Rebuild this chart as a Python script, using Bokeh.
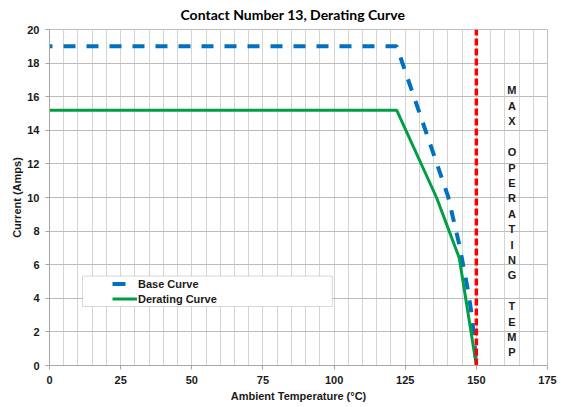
from bokeh.plotting import figure
from bokeh.models import (Range1d, SingleIntervalTicker, Legend, LegendItem,
                          BoxAnnotation, ColumnDataSource)
from bokeh.embed import file_html
from bokeh.resources import INLINE
from bokeh.core.properties import value

# ---------------- data ----------------
chart_title = "Contact Number 13, Derating Curve"
x_title = "Ambient Temperature (°C)"
y_title = "Current (Amps)"

base_temp = [0, 122, 140, 144, 147, 148.5, 150]
base_current = [19.0, 19.0, 10.1, 7.2, 4.5, 2.9, 0.0]

derate_temp = [0, 122, 136, 144, 150]
derate_current = [15.2, 15.2, 10.0, 6.4, 0.0]

max_temp = 150
max_temp_span = [0, 20]

label_letters = list("MAX OPERATING TEMP")
label_temp = 162.5
label_top = 16.37
label_step = 0.917

BLUE = "#0070C0"
GREEN = "#009E47"

# ---------------- figure ----------------
p = figure(width=560, height=405, x_range=Range1d(0, 175), y_range=Range1d(0, 20),
           output_backend="svg", toolbar_location=None, title=chart_title,
           min_border_left=49, min_border_right=13, min_border_top=29,
           min_border_bottom=40)

p.title.text_font = "Lato"
p.title.text_font_size = "14px"
p.title.text_font_style = "bold"
p.title.text_color = "#000000"
p.title.align = "left"
p.title.offset = 131
p.title.standoff = 10
p.title.vertical_align = "top"
p.background_fill_color = "white"
p.border_fill_color = "white"
p.outline_line_color = "#c0c0c0"

# axes
p.xaxis.ticker = SingleIntervalTicker(interval=25)
p.yaxis.ticker = SingleIntervalTicker(interval=2)
for ax in (p.xaxis, p.yaxis):
    ax.axis_line_color = "#a6a6a6"
    ax.major_tick_line_color = "#a6a6a6"
    ax.major_tick_out = 4
    ax.major_tick_in = 0
    ax.minor_tick_line_color = None
    ax.major_label_text_font = "Liberation Sans"
    ax.major_label_text_font_style = "bold"
    ax.major_label_text_font_size = "11px"
    ax.major_label_text_color = "#1a1a1a"
    ax.major_label_standoff = 6
    ax.axis_label_text_font = "Liberation Sans"
    ax.axis_label_text_font_style = "bold"
    ax.axis_label_text_font_size = "11px"
    ax.axis_label_text_color = "#1a1a1a"
p.xaxis.axis_label = x_title
p.yaxis.axis_label = y_title
p.xaxis.axis_label_standoff = 3
p.yaxis.axis_label_standoff = 1

# grid
p.xgrid.ticker = SingleIntervalTicker(interval=5)
p.xgrid.grid_line_color = "#d4d4d4"
p.xgrid.grid_line_width = 1
p.ygrid.ticker = SingleIntervalTicker(interval=2)
p.ygrid.grid_line_color = "#bdbdbd"
p.ygrid.grid_line_width = 1

# curves
base_src = ColumnDataSource(dict(x=base_temp, y=base_current))
p.line("x", "y", source=base_src, line_color=BLUE, line_width=4,
       line_dash="12 11", line_dash_offset=9)
r_der = p.line(derate_temp, derate_current, line_color=GREEN, line_width=3)
p.line([max_temp, max_temp], max_temp_span, line_color="#FF0000", line_width=3.5,
       line_dash="7 3")
# legend swatch for the dashed base curve (hidden renderer, same data)
r_base_key = p.line("x", "y", source=base_src, line_color=BLUE, line_width=4,
                    line_dash="13 20", visible=False)

# vertical text
src = ColumnDataSource(dict(
    x=[label_temp] * len(label_letters),
    y=[label_top - i * label_step for i in range(len(label_letters))],
    t=label_letters))
p.text(x="x", y="y", text="t", source=src, text_align="center",
       text_baseline="middle", text_font=value("Liberation Sans"),
       text_font_style="bold", text_font_size="11px", text_color="#1a1a1a")

# legend frame + legend
box = BoxAnnotation(left=11.6, right=99.4, bottom=3.51, top=5.32,
                    fill_color="white", fill_alpha=1.0,
                    line_color="#7f7f7f", line_width=1, level="annotation")
p.add_layout(box)
legend = Legend(items=[LegendItem(label="Base Curve", renderers=[r_base_key]),
                       LegendItem(label="Derating Curve", renderers=[r_der])],
                location=(63, 59), padding=0, margin=0, spacing=0,
                glyph_width=25, glyph_height=15, label_height=15,
                label_standoff=1, label_text_font="Liberation Sans",
                label_text_font_style="bold", label_text_font_size="11px",
                label_text_color="#1a1a1a", border_line_color=None,
                background_fill_alpha=0, inactive_fill_alpha=0)
p.add_layout(legend, "center")

open("out.html", "w").write(file_html(p, INLINE))
